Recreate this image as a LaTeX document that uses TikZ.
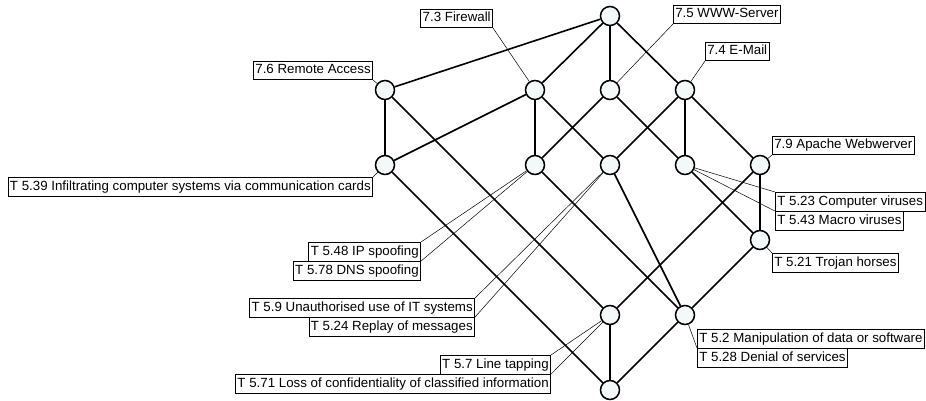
\documentclass[tikz,border=0pt]{standalone}
\usepackage{fontspec}
\setmainfont{Liberation Sans}
\usetikzlibrary{backgrounds}
\definecolor{nodefill}{HTML}{F3F9F9}
\begin{document}
\begin{tikzpicture}[x=1pt,y=-1pt,
  con/.style={circle,draw,line width=1.5pt,fill=nodefill,minimum size=19pt,inner sep=0pt},
  lbl/.style={draw,line width=0.6pt,fill=white,font=\fontsize{13.3}{15}\selectfont,inner xsep=2pt,inner ysep=0pt,minimum height=18.5pt,text height=9.8pt,text depth=2.8pt},
  edge/.style={line width=1.6pt},
  leader/.style={line width=0.5pt}]
\useasboundingbox (0,0) rectangle (926,401);
% lattice nodes
\node[con] (top) at (610,16) {};
\node[con] (A) at (385,90) {};
\node[con] (B) at (535,90) {};
\node[con] (C) at (610,90) {};
\node[con] (D) at (685,90) {};
\node[con] (E) at (385,165) {};
\node[con] (F) at (535,165) {};
\node[con] (G) at (610,165) {};
\node[con] (H) at (685,165) {};
\node[con] (I) at (760,165) {};
\node[con] (J) at (760,240) {};
\node[con] (K) at (610,315) {};
\node[con] (L) at (685,315) {};
\node[con] (M) at (610,390) {};
\begin{scope}[on background layer]
\fill[white] (0,0) rectangle (926,401);
\draw[edge] (top) -- (A);
\draw[edge] (top) -- (B);
\draw[edge] (top) -- (C);
\draw[edge] (top) -- (D);
\draw[edge] (A) -- (E);
\draw[edge] (A) -- (K);
\draw[edge] (B) -- (E);
\draw[edge] (B) -- (F);
\draw[edge] (B) -- (G);
\draw[edge] (C) -- (F);
\draw[edge] (C) -- (H);
\draw[edge] (D) -- (G);
\draw[edge] (D) -- (H);
\draw[edge] (D) -- (I);
\draw[edge] (E) -- (M);
\draw[edge] (F) -- (L);
\draw[edge] (G) -- (L);
\draw[edge] (H) -- (J);
\draw[edge] (I) -- (J);
\draw[edge] (I) -- (K);
\draw[edge] (J) -- (L);
\draw[edge] (K) -- (M);
\draw[edge] (L) -- (M);
\end{scope}
% labels
\node[lbl,anchor=south east] (fw) at (493,28) {7.3 Firewall};
\node[lbl,anchor=south west] (www) at (673,24) {7.5 WWW-Server};
\node[lbl,anchor=south west] (em) at (705,61) {7.4 E-Mail};
\node[lbl,anchor=south east] (ra) at (373,80) {7.6 Remote Access};
\node[lbl,anchor=south west] (ap) at (772,155) {7.9 Apache Webwerver};
\node[lbl,anchor=north east] (t539) at (373,177) {T 5.39 Infiltrating computer systems via communication cards};
\node[lbl,anchor=north west] (cv) at (775,192) {T 5.23 Computer viruses};
\node[lbl,anchor=north west] (mv) at (cv.south west) {T 5.43 Macro viruses};
\node[lbl,anchor=north west] (tr) at (772,253) {T 5.21 Trojan horses};
\node[lbl,anchor=north east] (ip) at (421,242) {T 5.48 IP spoofing};
\node[lbl,anchor=north east] (dns) at (ip.south east) {T 5.78 DNS spoofing};
\node[lbl,anchor=north east] (un) at (475,298) {T 5.9 Unauthorised use of IT systems};
\node[lbl,anchor=north east] (rp) at (un.south east) {T 5.24 Replay of messages};
\node[lbl,anchor=north west] (man) at (697,329) {T 5.2 Manipulation of data or software};
\node[lbl,anchor=north west] (dos) at (man.south west) {T 5.28 Denial of services};
\node[lbl,anchor=north east] (lt) at (551,355) {T 5.7 Line tapping};
\node[lbl,anchor=north east] (loss) at (lt.south east) {T 5.71 Loss of confidentiality of classified information};
% leaders
\draw[leader] (fw.south east) -- (B);
\draw[leader] (www.south west) -- (C);
\draw[leader] (em.south west) -- (D);
\draw[leader] (ra.south east) -- (A);
\draw[leader] (ap.south west) -- (I);
\draw[leader] (t539.north east) -- (E);
\draw[leader] (cv.north west) -- (H);
\draw[leader] (mv.north west) -- (H);
\draw[leader] (tr.north west) -- (J);
\draw[leader] (ip.north east) -- (F);
\draw[leader] (dns.north east) -- (F);
\draw[leader] (un.north east) -- (G);
\draw[leader] (rp.north east) -- (G);
\draw[leader] (lt.north east) -- (K);
\draw[leader] (loss.north east) -- (K);
\draw[leader] (man.south west) -- (L);
\end{tikzpicture}
\end{document}
